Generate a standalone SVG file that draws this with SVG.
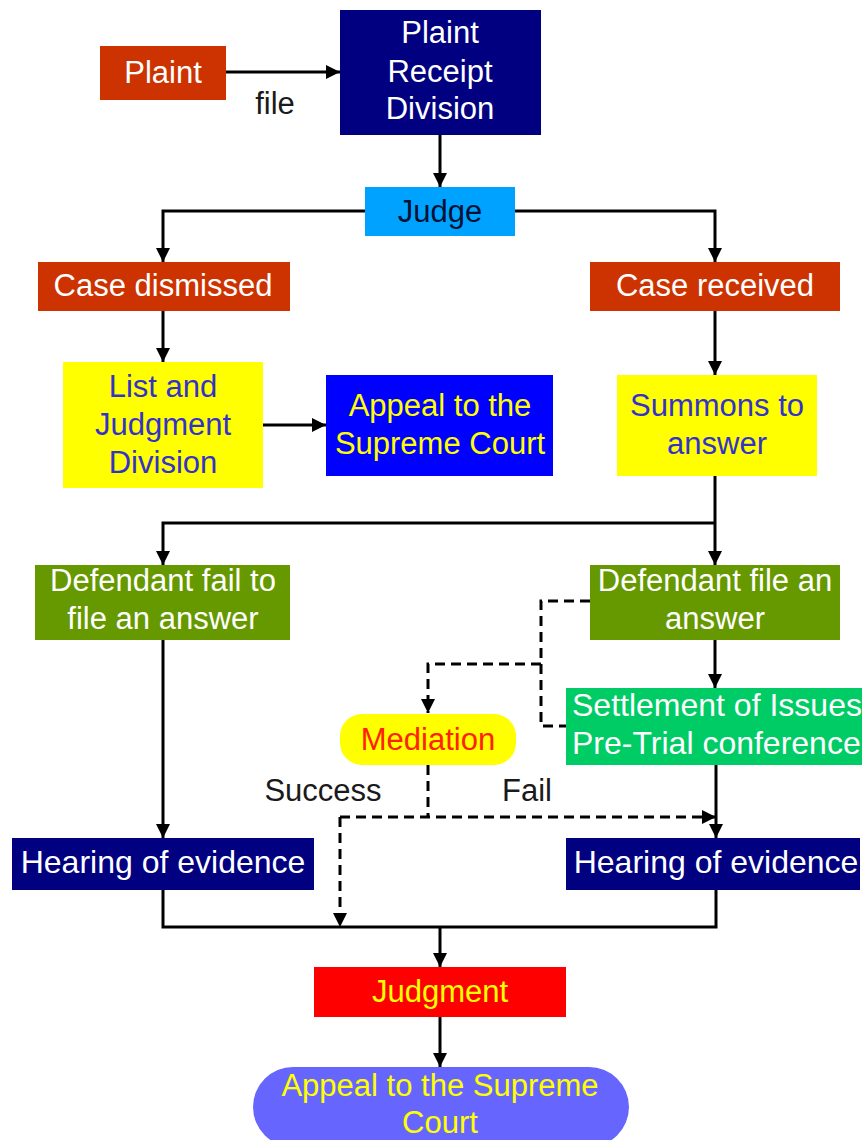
<svg xmlns="http://www.w3.org/2000/svg" width="862" height="1140" viewBox="0 0 862 1140">
<style>
.t{font-family:"Liberation Sans",Arial,sans-serif;font-size:31px;text-anchor:middle}
.w{fill:#ffffff}
.b{fill:#3333cc}
.y{fill:#ffff00}
.k{fill:#1a1a1a}
.ln{fill:none;stroke:#000;stroke-width:3}
.ds{fill:none;stroke:#000;stroke-width:3;stroke-dasharray:10 6}
</style>
<defs>
<marker id="ah" markerUnits="userSpaceOnUse" markerWidth="16" markerHeight="16" refX="14" refY="7" orient="auto">
<path d="M0,0 L14,7 L0,14 z" fill="#000"/>
</marker>
</defs>
<rect width="862" height="1140" fill="#ffffff"/>
<g id="connectors">
<line class="ln" x1="226" y1="72" x2="340" y2="72" marker-end="url(#ah)"/>
<line class="ln" x1="440" y1="135" x2="440" y2="187" marker-end="url(#ah)"/>
<polyline class="ln" points="365,211 163,211 163,262" marker-end="url(#ah)"/>
<polyline class="ln" points="515,211 715,211 715,262" marker-end="url(#ah)"/>
<line class="ln" x1="163" y1="311" x2="163" y2="362" marker-end="url(#ah)"/>
<line class="ln" x1="263" y1="425" x2="326" y2="425" marker-end="url(#ah)"/>
<line class="ln" x1="715" y1="311" x2="715" y2="375" marker-end="url(#ah)"/>
<line class="ln" x1="715" y1="476" x2="715" y2="565" marker-end="url(#ah)"/>
<polyline class="ln" points="715,523 163,523 163,565" marker-end="url(#ah)"/>
<line class="ln" x1="715" y1="640" x2="715" y2="688" marker-end="url(#ah)"/>
<line class="ln" x1="163" y1="640" x2="163" y2="838" marker-end="url(#ah)"/>
<line class="ln" x1="716" y1="765" x2="716" y2="838" marker-end="url(#ah)"/>
<polyline class="ds" points="590,601 541,601 541,726 568,726"/>
<polyline class="ds" points="541,664 428,664 428,713" marker-end="url(#ah)"/>
<line class="ds" x1="428" y1="765" x2="428" y2="817"/>
<line class="ds" x1="340" y1="817" x2="716" y2="817" marker-end="url(#ah)"/>
<line class="ds" x1="340" y1="817" x2="340" y2="927" marker-end="url(#ah)"/>
<polyline class="ln" points="163,890 163,927 716,927 716,890"/>
<line class="ln" x1="440" y1="927" x2="440" y2="967" marker-end="url(#ah)"/>
<line class="ln" x1="440" y1="1017" x2="440" y2="1067" marker-end="url(#ah)"/>
</g>
<g id="plaint"><rect x="100" y="46" width="126" height="54" fill="#cc3300"/><text class="t w" x="163" y="83">Plaint</text></g>
<g id="file-label"><text class="t k" x="275" y="114">file</text></g>
<g id="receipt"><rect x="340" y="10" width="201" height="125" fill="#000080"/><text class="t w" x="440" y="43">Plaint</text><text class="t w" x="440" y="82">Receipt</text><text class="t w" x="440" y="119">Division</text></g>
<g id="judge"><rect x="365" y="187" width="150" height="49" fill="#00a2ff"/><text class="t" fill="#001133" x="440" y="222">Judge</text></g>
<g id="dismissed"><rect x="38" y="262" width="252" height="49" fill="#cc3300"/><text class="t w" x="163" y="296">Case dismissed</text></g>
<g id="received"><rect x="590" y="262" width="250" height="49" fill="#cc3300"/><text class="t w" x="715" y="296">Case received</text></g>
<g id="list"><rect x="63" y="362" width="200" height="126" fill="#ffff00"/><text class="t b" x="163" y="397">List and</text><text class="t b" x="163" y="435">Judgment</text><text class="t b" x="163" y="473">Division</text></g>
<g id="appeal1"><rect x="326" y="375" width="227" height="101" fill="#0000ff"/><text class="t y" x="440" y="416">Appeal to the</text><text class="t y" x="440" y="454">Supreme Court</text></g>
<g id="summons"><rect x="617" y="375" width="200" height="101" fill="#ffff00"/><text class="t b" x="717" y="416">Summons to</text><text class="t b" x="717" y="454">answer</text></g>
<g id="deffail"><rect x="35" y="565" width="255" height="75" fill="#669900"/><text class="t w" x="163" y="591">Defendant fail to</text><text class="t w" x="163" y="629">file an answer</text></g>
<g id="deffile"><rect x="590" y="565" width="250" height="75" fill="#669900"/><text class="t w" x="715" y="591">Defendant file an</text><text class="t w" x="715" y="629">answer</text></g>
<g id="settlement"><rect x="566" y="688" width="300" height="77" fill="#00cc66"/><text class="t w" style="text-anchor:start;font-size:32px" x="572" y="716">Settlement of Issues</text><text class="t w" style="text-anchor:start;font-size:32px" x="572" y="754">Pre-Trial conference</text></g>
<g id="mediation"><rect x="340" y="714" width="176" height="51" rx="22" fill="#ffff00"/><text class="t" fill="#ff2200" x="428" y="750">Mediation</text></g>
<g id="labels"><text class="t k" x="323" y="801">Success</text><text class="t k" x="527" y="801">Fail</text></g>
<g id="hear1"><rect x="12" y="838" width="302" height="52" fill="#000080"/><text class="t w" style="font-size:32px" x="163" y="873">Hearing of evidence</text></g>
<g id="hear2"><rect x="566" y="838" width="294" height="52" fill="#000080"/><text class="t w" style="font-size:32px" x="716" y="873">Hearing of evidence</text></g>
<g id="judgment"><rect x="314" y="967" width="252" height="50" fill="#ff0000"/><text class="t y" x="440" y="1002">Judgment</text></g>
<g id="appeal2"><rect x="253" y="1067" width="376" height="80" rx="40" fill="#6666ff"/><text class="t y" x="440" y="1096">Appeal to the Supreme</text><text class="t y" x="440" y="1133">Court</text></g>
</svg>
